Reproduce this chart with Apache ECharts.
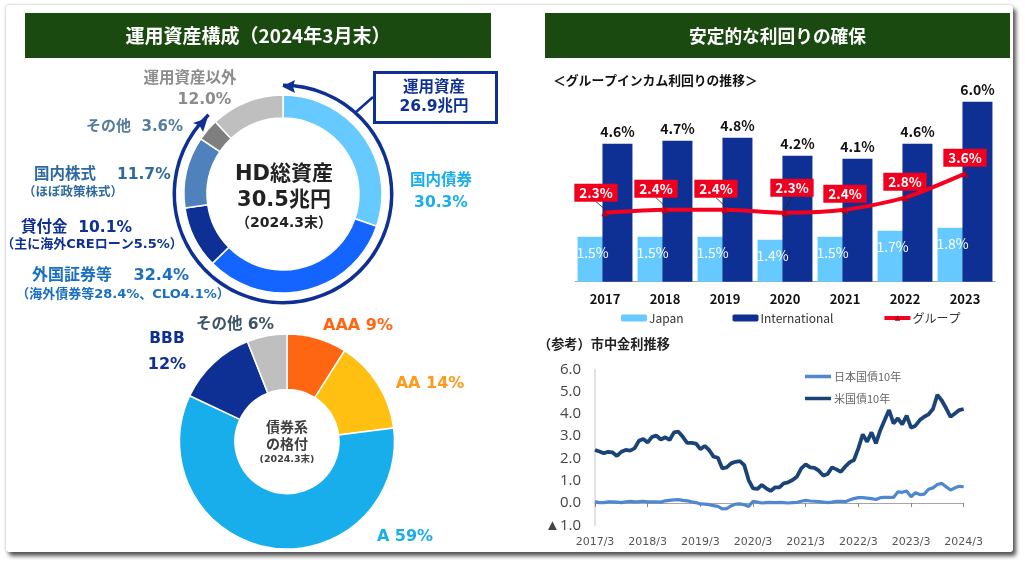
<!DOCTYPE html>
<html>
<head>
<meta charset="utf-8">
<script src="https://cdn.jsdelivr.net/npm/echarts@6/dist/echarts.min.js"></script>
<style>
  html, body { margin: 0; padding: 0; background: #fff; overflow: hidden; }
  #card { position: absolute; left: 6px; top: 5px; width: 1007px; height: 547px; background: #fff;
          border-radius: 3px; box-shadow: 3px 4px 4px #555, 0 0 3px #bbb; }
  #chart { position: absolute; left: 0; top: 0; width: 1025px; height: 567px; }
</style>
</head>
<body>
<div id="card"></div>
<div id="chart"></div>
<script>
// asset mix
const assetNames = ['国内債券', '外国証券等', '貸付金', '国内株式', 'その他', '運用資産以外'];
const assetValues = [30.3, 32.4, 10.1, 11.7, 3.6, 12.0];
const assetColors = ['#66c9ff', '#1464ff', '#0e3094', '#4f81bd', '#7f7f7f', '#bfbfbf'];

// bond ratings
const ratingNames = ['AAA', 'AA', 'A', 'BBB', 'その他'];
const ratingValues = [9, 14, 59, 12, 6];
const ratingColors = ['#ff6611', '#ffc012', '#18aeec', '#0e3094', '#bfbfbf'];

// income yield
const years = ['2017', '2018', '2019', '2020', '2021', '2022', '2023'];
const japanYield = [1.5, 1.5, 1.5, 1.4, 1.5, 1.7, 1.8];
const intlYield = [4.6, 4.7, 4.8, 4.2, 4.1, 4.6, 6.0];
const groupYield = [2.3, 2.4, 2.4, 2.3, 2.4, 2.8, 3.6];
// label box shift from the point, first four have a leader line
const groupLabelShift = [[-9, -20], [-9, -21], [-9, -21], [7, -25], [0, -16], [0, -16], [0, -16]];

// market rates, monthly from 2017/3 to 2024/3
const jgb10y = [0.06, 0.02, 0.02, 0.05, 0.05, 0.04, 0.02, 0.05, 0.07, 0.05, 0.06, 0.08, 0.05,
  0.05, 0.05, 0.04, 0.10, 0.12, 0.14, 0.15, 0.12, 0.10, 0.05, 0.02, -0.04, -0.05, -0.07, -0.12,
  -0.15, -0.26, -0.25, -0.13, -0.05, -0.04, -0.08, -0.16, 0.08, 0.04, 0.00, 0.02, 0.03, 0.02,
  0.03, 0.02, 0.00, 0.02, 0.03, 0.08, 0.12, 0.09, 0.08, 0.06, 0.04, 0.02, 0.04, 0.07, 0.08,
  0.06, 0.13, 0.20, 0.24, 0.24, 0.22, 0.20, 0.16, 0.24, 0.25, 0.25, 0.25, 0.50, 0.48, 0.54,
  0.28, 0.46, 0.38, 0.40, 0.62, 0.68, 0.83, 0.88, 0.73, 0.58, 0.68, 0.75, 0.73];
const ust10y = [2.38, 2.31, 2.23, 2.30, 2.27, 2.11, 2.30, 2.38, 2.35, 2.45, 2.79, 2.87, 2.72,
  2.97, 3.02, 2.85, 2.95, 2.83, 3.17, 3.20, 2.97, 2.70, 2.70, 2.67, 2.42, 2.56, 2.38, 2.08,
  2.03, 1.55, 1.60, 1.78, 1.85, 1.88, 1.70, 1.03, 0.66, 0.63, 0.81, 0.66, 0.54, 0.70,
  0.70, 0.88, 0.93, 1.03, 1.18, 1.55, 1.73, 1.60, 1.58, 1.45, 1.23, 1.30, 1.60, 1.51, 1.40,
  1.63, 1.82, 1.93, 2.45, 3.08, 2.75, 3.17, 2.68, 3.27, 3.72, 4.17, 3.57, 3.80, 3.53, 3.92,
  3.38, 3.47, 3.72, 3.87, 3.98, 4.22, 4.85, 4.60, 4.25, 3.87, 4.02, 4.17, 4.22];
const rateMonths = [];
for (let i = 0; i < ust10y.length; i++) {
  const m = 2 + i;
  rateMonths.push((2017 + Math.floor(m / 12)) + '/' + (m % 12 + 1));
}

const JP = '"Noto Sans CJK JP", sans-serif';
const WIDE = '"DejaVu Sans", "Noto Sans CJK JP", sans-serif';
const NAVY = '#0e3094';

function txt(text, x, y, size, color, align, font, weight) {
  return {
    type: 'text', x: x, y: y, z: 10, silent: true,
    style: {
      text: text, fontSize: size, fill: color, align: align || 'center', verticalAlign: 'middle',
      fontFamily: font || WIDE, fontWeight: weight || 'bold'
    }
  };
}

function header(x, w, text, size) {
  return [
    { type: 'rect', x: x, y: 13, z: 5, silent: true, shape: { width: w, height: 45 }, style: { fill: '#1a4a0f' } },
    txt(text, x + w / 2, 36, size, '#fff', 'center', JP)
  ];
}

const chart = echarts.init(document.getElementById('chart'));
chart.setOption({
  animation: false,
  textStyle: { fontFamily: JP },
  grid: [
    { left: 575, top: 101.7, width: 420, height: 180 },
    { left: 595, top: 369.3, width: 368.7, height: 156 }
  ],
  xAxis: [
    {
      type: 'category', gridIndex: 0, data: years,
      axisLine: { lineStyle: { color: '#a6a6a6', width: 1.2 } },
      axisTick: { inside: true, length: 4, lineStyle: { color: '#a6a6a6' } },
      axisLabel: { color: '#111', fontSize: 13, fontWeight: 'bold', margin: 11 }
    },
    {
      type: 'category', gridIndex: 1, data: rateMonths, boundaryGap: false,
      axisLine: { onZero: true, lineStyle: { color: '#a6a6a6', width: 1.2 } },
      axisTick: { interval: 11, length: 4, lineStyle: { color: '#888' } },
      axisLabel: { interval: 11, color: '#555', fontSize: 11, margin: 11, fontFamily: '"DejaVu Sans", sans-serif', showMinLabel: true, showMaxLabel: true }
    }
  ],
  yAxis: [
    { type: 'value', gridIndex: 0, min: 0, max: 6, show: false },
    {
      type: 'value', gridIndex: 1, min: -1, max: 6, interval: 1,
      axisLine: { show: true, onZero: false, lineStyle: { color: '#d9d9d9', width: 1.5 } },
      axisTick: { show: false },
      splitLine: { show: false },
      axisLabel: {
        color: '#444', fontSize: 15, margin: 14, fontFamily: '"Open Sans", sans-serif',
        formatter: v => (v < 0 ? '▲' + Math.abs(v).toFixed(1) : v.toFixed(1))
      }
    }
  ],
  legend: [
    {
      left: 616, top: 307, itemWidth: 26, itemHeight: 7, itemGap: 49,
      data: ['Japan', 'International', { name: 'グループ', lineStyle: { width: 4 } }],
      textStyle: { color: '#333', fontSize: 12, padding: [0, 0, 0, -3] }
    },
    {
      left: 800, top: 366, orient: 'vertical', itemWidth: 26, itemHeight: 3.5, itemGap: 11,
      data: [{ name: '日本国債10年', icon: 'rect' }, { name: '米国債10年', icon: 'rect' }],
      textStyle: { color: '#666', fontSize: 11, padding: [0, 0, 0, -2] }
    }
  ],
  series: [
    {
      type: 'pie', center: [283, 194], radius: [76, 99], startAngle: 90, silent: true,
      label: { show: false },
      itemStyle: { borderColor: '#fff', borderWidth: 1.5 },
      data: assetNames.map((n, i) => ({ name: n, value: assetValues[i], itemStyle: { color: assetColors[i] } }))
    },
    {
      // the band that marks the investment assets share
      type: 'pie', center: [283, 194], radius: [107, 110.5], startAngle: 90, silent: true,
      label: { show: false },
      itemStyle: { borderWidth: 0 },
      data: [
        { name: '運用資産', value: assetValues.slice(0, 5).reduce((a, b) => a + b, 0), itemStyle: { color: NAVY } },
        { name: '運用資産以外', value: assetValues[5], itemStyle: { color: 'rgba(0,0,0,0)' } }
      ]
    },
    {
      type: 'pie', center: [287, 441.5], radius: [52, 107.5], startAngle: 90, silent: true,
      label: { show: false },
      itemStyle: { borderColor: '#fff', borderWidth: 1.5 },
      data: ratingNames.map((n, i) => ({ name: n, value: ratingValues[i], itemStyle: { color: ratingColors[i] } }))
    },
    {
      name: 'Japan', type: 'bar', xAxisIndex: 0, yAxisIndex: 0, data: japanYield,
      barWidth: 30, barGap: '-17%', itemStyle: { color: '#66c9ff' },
      label: {
        show: true, position: 'insideTop', distance: 9, color: '#fff', fontSize: 14,
        formatter: p => p.value.toFixed(1) + '%'
      }
    },
    {
      name: 'International', type: 'bar', xAxisIndex: 0, yAxisIndex: 0, data: intlYield,
      barWidth: 30, itemStyle: { color: NAVY },
      label: {
        show: true, position: 'top', distance: 5, color: '#111', fontSize: 14, fontWeight: 'bold',
        formatter: p => p.value.toFixed(1) + '%'
      }
    },
    {
      name: 'グループ', type: 'line', xAxisIndex: 0, yAxisIndex: 0, smooth: 0.25, z: 5,
      symbol: 'triangle', symbolSize: 7,
      lineStyle: { color: '#f5001e', width: 4 },
      itemStyle: { color: '#c00018' },
      data: groupYield.map((v, i) => ({ value: v, labelLine: { show: i < 4, lineStyle: { color: '#222', width: 0.8 } } })),
      label: {
        show: true, position: 'inside', color: '#fff', fontSize: 13.5, fontWeight: 'bold',
        backgroundColor: '#f0001e', padding: [1, 5, 1, 5], lineHeight: 16,
        formatter: p => groupYield[p.dataIndex].toFixed(1) + '%'
      },
      labelLine: { show: true, lineStyle: { color: '#222', width: 0.8 } },
      labelLayout: p => ({ dx: groupLabelShift[p.dataIndex][0], dy: groupLabelShift[p.dataIndex][1] })
    },
    {
      name: '日本国債10年', type: 'line', xAxisIndex: 1, yAxisIndex: 1, data: jgb10y, showSymbol: false, symbol: 'none',
      lineStyle: { color: '#4f87d0', width: 3.2 }, itemStyle: { color: '#4f87d0' }
    },
    {
      name: '米国債10年', type: 'line', xAxisIndex: 1, yAxisIndex: 1, data: ust10y, showSymbol: false, symbol: 'none',
      lineStyle: { color: '#1a4377', width: 3.8 }, itemStyle: { color: '#1a4377' }
    }
  ],
  graphic: [
    ...header(25, 466, '運用資産構成（2024年3月末）', 19),
    ...header(545, 465, '安定的な利回りの確保', 17.7),

    // arrow heads of the investment assets band
    { type: 'polygon', z: 8, silent: true, shape: { points: [[282, 86.5], [295, 80], [293, 86.5], [295, 93]] }, style: { fill: NAVY } },
    { type: 'polygon', z: 8, silent: true, shape: { points: [[207.5, 118], [203, 132], [199.5, 125.5], [193, 123]] }, style: { fill: NAVY } },
    { type: 'line', z: 8, silent: true, shape: { x1: 356, y1: 112, x2: 373, y2: 97 }, style: { stroke: NAVY, lineWidth: 2.5 } },
    { type: 'rect', z: 8, silent: true, shape: { x: 374.5, y: 72.5, width: 122, height: 50 }, style: { fill: '#fff', stroke: NAVY, lineWidth: 3 } },
    txt('運用資産', 434, 88, 15.5, NAVY),
    txt('26.9兆円', 434, 107, 15.5, NAVY),

    txt('運用資産以外', 190, 79, 15.5, '#8c8c8c'),
    txt('12.0%', 204.5, 100, 15.5, '#8c8c8c'),
    txt('その他  3.6%', 86, 127, 15, '#567c9b', 'left'),
    txt('国内株式　 11.7%', 34, 175, 15.5, '#2f6a9f', 'left'),
    txt('（ほぼ政策株式）', 73, 193, 12.5, '#2f6a9f'),
    txt('貸付金  10.1%', 21, 228, 15.5, NAVY, 'left'),
    txt('（主に海外CREローン5.5%）', 92, 245, 13, NAVY),
    txt('外国証券等　 32.4%', 32, 276, 16, '#1a6fc0', 'left'),
    txt('（海外債券等28.4%、CLO4.1%）', 123, 295, 13, '#1a6fc0'),
    txt('国内債券', 441, 181, 15.5, '#1aaeec'),
    txt('30.3%', 441, 203, 15.5, '#1aaeec'),
    txt('HD総資産', 284, 175, 21, '#222'),
    txt('30.5兆円', 284, 201, 21, '#222'),
    txt('（2024.3末）', 284, 223, 14, '#222'),

    txt('その他 6%', 235, 325, 15.5, '#3d5566'),
    txt('AAA 9%', 358, 326, 16, '#ff6611'),
    txt('AA 14%', 430, 384, 16, '#ff9a1a'),
    txt('A 59%', 405, 537, 16, '#18aeec'),
    txt('BBB', 167, 339, 15.5, NAVY),
    txt('12%', 167, 365, 16, NAVY),
    txt('債券系', 287, 428, 14, '#404040'),
    txt('の格付', 287, 445, 14, '#404040'),
    txt('(2024.3末)', 287, 460, 9.5, '#404040'),

    txt('＜グループインカム利回りの推移＞', 553, 80, 12.8, '#111', 'left', JP),
    txt('（参考）市中金利推移', 538, 344, 13.2, '#222', 'left', JP)
  ]
});
</script>
</body>
</html>
